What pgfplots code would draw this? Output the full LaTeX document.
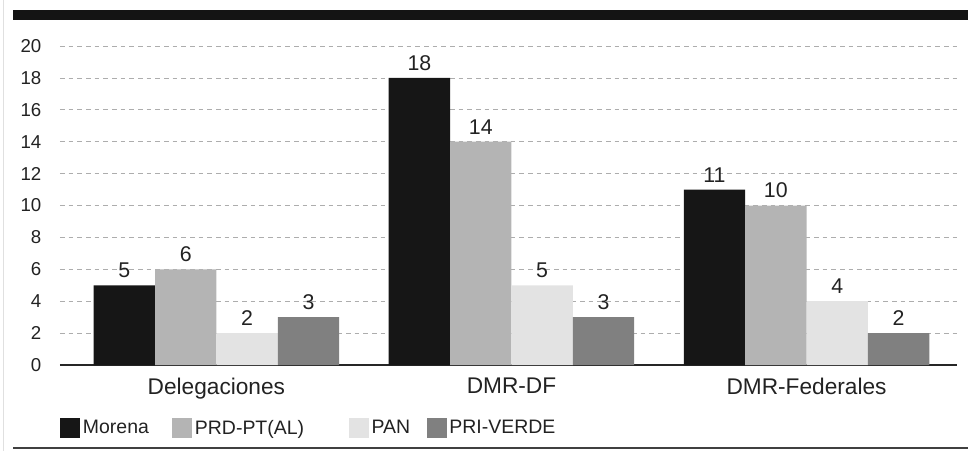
\documentclass[border=0pt]{standalone}
\usepackage{pgfplots}
\pgfplotsset{compat=1.18}
\usepackage{fontspec}
\setmainfont{Liberation Sans}
\definecolor{cMorena}{HTML}{161616}
\definecolor{cPRD}{HTML}{B4B4B4}
\definecolor{cPAN}{HTML}{E3E3E3}
\definecolor{cPRI}{HTML}{808080}
\definecolor{txt}{HTML}{222222}
\begin{document}
\begin{tikzpicture}
\path[use as bounding box] (0,0) rectangle (726pt,338.25pt);
% frame decorations
\draw[color=black!12, line width=0.8pt] (2.5pt,0) -- (2.5pt,338.25pt);
\fill[black!92] (10pt,323.5pt) rectangle (726pt,330.5pt);
\draw[color=black!75, line width=1.5pt] (10pt,2.25pt) -- (726pt,2.25pt);
\begin{axis}[
    at={(45pt,64.5pt)}, anchor=south west,
    scale only axis, width=672.75pt, height=239.25pt,
    ybar=0pt, bar width=0.208,
    xmin=-0.53, xmax=2.51, ymin=0, ymax=20,
    xtick={0,1,2}, xticklabels={Delegaciones,DMR-DF,DMR-Federales},
    ytick={0,2,...,20},
    major tick length=0pt,
    axis x line*=bottom, axis y line*=left,
    x axis line style={draw=black!85, line width=1.5pt, -},
    y axis line style={draw=none},
    ymajorgrids,
    major grid style={color=black!32, line width=0.6pt, dash pattern=on 3.5pt off 3pt},
    /pgf/number format/assume math mode=true,
    yticklabel style={font=\fontsize{14}{16}\selectfont, text=txt, xshift=-10.5pt},
    xticklabel style={font=\fontsize{17}{19}\selectfont, text=txt, yshift=-6.5pt},
    nodes near coords,
    every node near coord/.append style={font=\fontsize{16}{18}\selectfont, text=txt, yshift=2pt},
    clip=false,
    legend columns=4,
    legend style={at={(axis description cs:0,-0.1975)}, anchor=west,
        draw=none, fill=none, inner sep=0pt,
        font=\fontsize{14.6}{16}\selectfont, text=txt,
        /tikz/every even column/.append style={column sep=10.5pt}},
    legend image code/.code={\fill[#1] (0pt,-7.5pt) rectangle (15pt,7.5pt);},
]
\addplot[fill=cMorena, draw=none] coordinates {(0,5) (1,18) (2,11)};
\addplot[fill=cPRD, draw=none] coordinates {(0,6) (1,14) (2,10)};
\addplot[fill=cPAN, draw=none] coordinates {(0,2) (1,5) (2,4)};
\addplot[fill=cPRI, draw=none] coordinates {(0,3) (1,3) (2,2)};
\legend{Morena\kern5pt, PRD-PT(AL)\kern21pt, PAN, PRI-VERDE}
\end{axis}
\end{tikzpicture}
\end{document}
